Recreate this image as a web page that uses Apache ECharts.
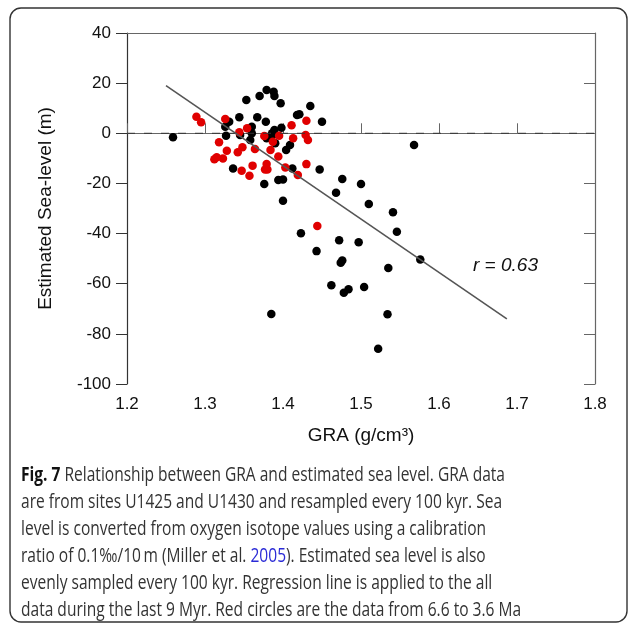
<!DOCTYPE html>
<html>
<head>
<meta charset="utf-8">
<script src="https://cdn.jsdelivr.net/npm/echarts@6.0.0/dist/echarts.min.js"></script>
<style>
	html, body { margin: 0; padding: 0; background: #fff; }
	#main { width: 629px; height: 626px; }
</style>
</head>
<body>
<div id="main"></div>
<script>
	// GRA (g/cm3) vs estimated sea level (m)
	var blackGra = [1.259, 1.379, 1.388, 1.389, 1.370, 1.353, 1.397, 1.435, 1.344, 1.367,
		1.378, 1.418, 1.421, 1.331, 1.326, 1.360, 1.398, 1.389, 1.386, 1.387,
		1.360, 1.345, 1.327, 1.358, 1.379, 1.390, 1.409, 1.404, 1.336, 1.412,
		1.447, 1.394, 1.400, 1.376, 1.400, 1.450, 1.568, 1.476, 1.500, 1.468,
		1.510, 1.541, 1.423, 1.546, 1.472, 1.497, 1.443, 1.476, 1.474, 1.576,
		1.535, 1.462, 1.478, 1.484, 1.504, 1.385, 1.534, 1.522];
	var blackSea = [-1.6, 17.3, 16.6, 14.9, 14.9, 13.3, 12.0, 10.9, 6.4, 6.4,
		4.6, 7.3, 7.6, 4.6, 2.6, 2.6, 2.2, 1.3, 0.0, -0.7,
		0.0, -0.7, -1.0, -2.7, -2.0, -4.0, -4.7, -6.7, -14.0, -14.0,
		-14.4, -18.6, -18.4, -20.2, -26.9, 4.6, -4.7, -18.2, -20.2, -23.7,
		-28.2, -31.5, -39.9, -39.3, -42.7, -43.5, -47.0, -50.7, -51.6, -50.3,
		-53.7, -60.6, -63.6, -62.2, -61.3, -72.1, -72.2, -85.9];

	// 6.6 - 3.6 Ma (red)
	var redGra = [1.289, 1.295, 1.326, 1.318, 1.344, 1.354, 1.328, 1.342, 1.348, 1.364,
		1.312, 1.315, 1.323, 1.376, 1.387, 1.395, 1.384, 1.394, 1.411, 1.430,
		1.429, 1.432, 1.413, 1.347, 1.361, 1.357, 1.379, 1.377, 1.380, 1.403,
		1.419, 1.430, 1.444];
	var redSea = [6.6, 4.4, 5.7, -3.6, 0.4, 2.0, -7.0, -7.6, -5.6, -6.3,
		-10.4, -9.6, -10.1, -1.1, -3.4, -1.0, -6.7, -9.3, 3.2, 5.0,
		-0.7, -2.7, -2.0, -14.9, -12.9, -16.9, -12.3, -14.4, -14.4, -13.6,
		-16.6, -12.3, -37.0];

	// regression line end points
	var regGra = [1.25, 1.687];
	var regSea = [19.0, -74.0];
	var rText = 'r = 0.63';

	var xTicks = [1.2, 1.3, 1.4, 1.5, 1.6, 1.7, 1.8];
	var yTicks = [-100, -80, -60, -40, -20, 0, 20, 40];

	var captionLines = [
		'{b|Fig. 7} Relationship between GRA and estimated sea level. GRA data',
		'are from sites U1425 and U1430 and resampled every 100 kyr. Sea',
		'level is converted from oxygen isotope values using a calibration',
		'ratio of 0.1\u2030/10\u2009m (Miller et al. {a|2005}). Estimated sea level is also',
		'evenly sampled every 100 kyr. Regression line is applied to the all',
		'data during the last 9 Myr. Red circles are the data from 6.6 to 3.6 Ma'
	];

	function pairs(xs, ys) {
		return xs.map(function (x, i) { return [x, ys[i]]; });
	}

	// squeeze Open Sans a bit so the caption fits like the original typeface
	var capFont = '"Open Sans", sans-serif';
	var ctx = document.createElement('canvas').getContext('2d');
	ctx.font = 'bold 20px ' + capFont;
	var wBold = ctx.measureText('Fig. 7').width;
	ctx.font = '20px ' + capFont;
	var wRest = ctx.measureText(' Relationship between GRA and estimated sea level. GRA data').width;
	var capScale = 484 / (wBold + wRest);

	var graphics = [{
		type: 'rect',
		shape: { x: 10, y: 8, width: 617, height: 614, r: 11 },
		style: { fill: 'none', stroke: '#333', lineWidth: 1.4 },
		silent: true
	}, {
		type: 'text',
		x: 473, y: 256,
		style: { text: rText, font: 'italic 19px "Liberation Sans", Arial, sans-serif', fill: '#111' }
	}];
	captionLines.forEach(function (line, i) {
		graphics.push({
			type: 'text',
			x: 21, y: 465 + i * 27,
			scaleX: capScale,
			style: {
				text: line,
				font: '20px ' + capFont,
				fill: '#333',
				rich: {
					b: { fontWeight: 'bold', fontSize: 20, fontFamily: capFont, fill: '#111' },
					a: { fontSize: 20, fontFamily: capFont, fill: '#2b2bd6' }
				}
			}
		});
	});

	var chart = echarts.init(document.getElementById('main'), null, { renderer: 'canvas' });
	chart.setOption({
		backgroundColor: '#fff',
		animation: false,
		textStyle: { fontFamily: '"Liberation Sans", Arial, sans-serif' },
		grid: { left: 127, top: 33, width: 468, height: 351 },
		xAxis: [{
			type: 'value', min: xTicks[0], max: xTicks[xTicks.length - 1], interval: 0.1,
			name: 'GRA (g/cm\u00b3)', nameLocation: 'middle', nameGap: 42,
			nameTextStyle: { fontSize: 19, color: '#111' },
			axisLine: { lineStyle: { color: '#666', width: 1.2 } },
			axisTick: { inside: true, length: 10, lineStyle: { color: '#666' } },
			axisLabel: { fontSize: 17, color: '#111', margin: 12, formatter: function (v) { return v.toFixed(1); } },
			splitLine: { show: false }
		}, {
			type: 'value', position: 'top', min: xTicks[0], max: xTicks[xTicks.length - 1], interval: 0.1,
			axisLine: { onZero: false, lineStyle: { color: '#666', width: 1.2 } },
			axisTick: { show: false }, axisLabel: { show: false }, splitLine: { show: false }
		}],
		yAxis: [{
			type: 'value', min: yTicks[0], max: yTicks[yTicks.length - 1], interval: 20,
			name: 'Estimated Sea-level (m)', nameLocation: 'middle', nameGap: 72,
			nameTextStyle: { fontSize: 19, color: '#111' },
			axisLine: { show: true, onZero: false, lineStyle: { color: '#333', width: 1.2 } },
			axisTick: { show: true, length: 11, lineStyle: { color: '#333' } },
			axisLabel: { fontSize: 17, color: '#111', margin: 16 },
			splitLine: { show: false }
		}, {
			type: 'value', position: 'right', min: yTicks[0], max: yTicks[yTicks.length - 1], interval: 20,
			axisLine: { show: true, onZero: false, lineStyle: { color: '#666', width: 1.2 } },
			axisTick: { show: true, inside: true, length: 11, lineStyle: { color: '#666' } },
			axisLabel: { show: false }, splitLine: { show: false }
		}],
		series: [{
			type: 'line', data: [[xTicks[0], 0], [xTicks[xTicks.length - 1], 0]],
			symbol: 'none', silent: true,
			lineStyle: { color: '#333', width: 1, type: [8, 9] }
		}, {
			type: 'line', data: pairs(regGra, regSea),
			symbol: 'none', silent: true,
			lineStyle: { color: '#555', width: 1.6 }
		}, {
			type: 'scatter', data: pairs(blackGra, blackSea),
			symbolSize: 8.5, itemStyle: { color: '#000', opacity: 1 }
		}, {
			type: 'scatter', data: pairs(redGra, redSea),
			symbolSize: 8.5, itemStyle: { color: '#e00000', opacity: 1 }
		}],
		graphic: graphics
	});
</script>
</body>
</html>
